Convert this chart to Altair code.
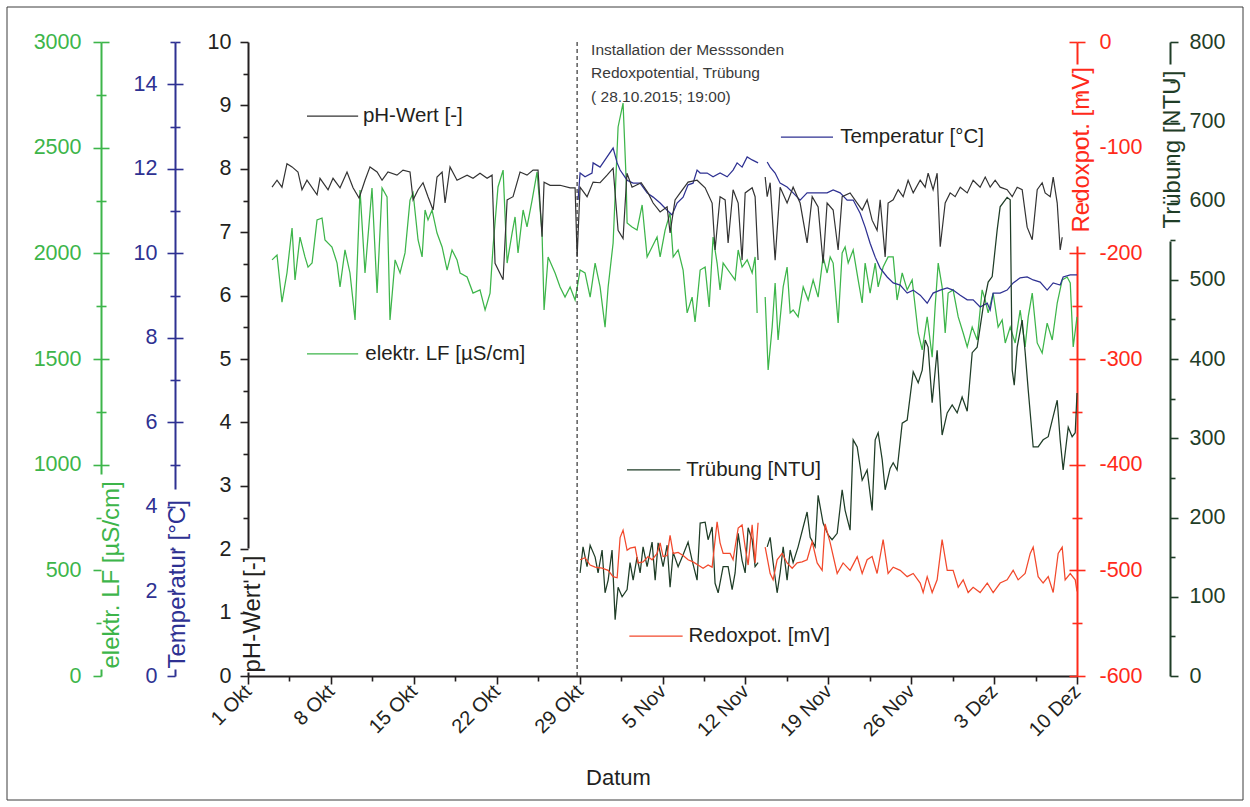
import altair as alt
import pandas as pd

T0_MS = 1443657600000          # 2015-10-01 00:00 UTC
DAY_MS = 86400000
GAP_DAY = 43.4                 # logger gap around 12 Nov
INSTALL_DAY = 27.79            # 28.10.2015 19:00

# ---------------- data: (day since 1 Okt 2015, value) ----------------
ph_points = [
    (2.03, 7.71), (2.45, 7.82), (2.87, 7.71), (3.29, 8.08), (3.72, 8.03), (4.22, 7.95), (4.56, 7.67), (4.98, 7.82),
    (5.83, 7.59), (6.08, 7.85), (6.76, 7.67), (7.18, 7.85), (7.77, 7.70), (8.36, 7.95), (8.87, 7.70), (9.38, 7.54),
    (9.88, 7.82), (10.30, 8.03), (10.90, 7.95), (11.32, 7.82), (11.82, 7.95), (12.58, 7.90), (13.09, 7.98), (13.68, 7.95),
    (13.94, 7.51), (14.36, 7.67), (14.78, 7.78), (15.20, 7.56), (15.63, 7.35), (15.96, 7.87), (16.39, 7.95), (16.64, 7.46),
    (17.06, 8.03), (17.65, 7.82), (18.50, 7.90), (19.00, 7.85), (19.59, 7.93), (20.19, 7.85), (20.61, 7.90), (20.86, 6.51),
    (21.54, 6.25), (21.88, 7.51), (22.38, 7.56), (22.97, 7.95), (23.56, 7.90), (24.07, 7.98), (24.49, 7.98), (24.83, 6.93),
    (25.00, 7.79), (25.51, 7.74), (26.35, 7.74), (27.20, 7.70), (27.62, 7.70), (27.79, 6.61), (28.04, 7.71), (28.63, 7.56),
    (29.14, 7.79), (29.73, 7.78), (30.32, 7.90), (30.83, 8.01), (31.25, 7.03), (31.67, 6.90), (32.00, 7.93), (32.43, 7.71),
    (33.20, 7.78), (33.78, 7.62), (34.21, 7.46), (34.80, 7.32), (35.39, 7.40), (35.64, 6.99), (36.06, 7.51), (36.49, 7.62),
    (37.16, 7.79), (37.92, 7.82), (38.60, 7.70), (39.19, 7.46), (39.44, 6.72), (39.86, 7.56), (40.29, 7.51), (40.54, 6.83),
    (40.96, 7.67), (41.39, 7.46), (41.72, 6.56), (41.98, 7.62), (42.57, 7.70), (42.82, 7.56), (43.07, 6.56),
    (43.67, 7.87), (43.84, 7.56), (44.09, 7.78), (44.51, 6.56), (44.93, 7.71), (45.52, 7.46), (46.03, 7.71), (46.62, 7.46),
    (47.21, 6.83), (47.64, 7.56), (48.14, 7.40), (48.56, 6.51), (48.90, 7.46), (49.41, 7.35), (49.83, 6.72), (50.17, 7.56),
    (50.84, 7.62), (51.44, 7.46), (51.86, 7.35), (52.28, 7.51), (52.70, 7.19), (53.12, 7.03), (53.38, 7.51), (53.80, 6.61),
    (54.05, 7.46), (54.48, 7.51), (54.90, 7.67), (55.32, 7.56), (55.74, 7.82), (56.17, 7.62), (56.76, 7.82), (57.18, 7.71),
    (57.43, 7.93), (57.85, 7.67), (58.19, 7.93), (58.45, 6.77), (58.87, 7.46), (59.29, 7.62), (59.71, 7.56), (60.14, 7.71),
    (60.73, 7.62), (61.23, 7.82), (61.82, 7.71), (62.25, 7.87), (62.67, 7.71), (63.09, 7.82), (63.51, 7.71), (64.10, 7.67),
    (64.53, 7.56), (64.95, 7.71), (65.37, 7.67), (65.79, 7.08), (66.22, 6.88), (66.64, 7.67), (67.06, 7.78), (67.31, 7.62),
    (67.74, 7.56), (67.99, 7.87), (68.33, 7.46), (68.58, 6.72), (68.75, 6.92),
]

lf_points = [
    (2.03, 1969), (2.45, 1992), (2.87, 1769), (3.29, 1907), (3.72, 2120), (3.97, 1874), (4.39, 2077), (4.81, 1983),
    (5.07, 1935), (5.41, 1954), (5.83, 2158), (6.25, 2167), (6.50, 2063), (7.09, 2030), (7.52, 1954), (7.77, 1841),
    (8.19, 2016), (8.61, 1907), (9.04, 1685), (9.46, 2300), (9.88, 1907), (10.47, 2309), (10.90, 1812), (11.32, 2309),
    (11.74, 2267), (11.99, 1685), (12.42, 1969), (12.84, 1907), (13.26, 2002), (13.68, 2252), (13.94, 2286), (14.36, 2063),
    (14.70, 1983), (14.95, 2205), (15.20, 2158), (15.54, 2205), (15.96, 2096), (16.39, 2030), (16.81, 1921), (17.23, 2016),
    (17.65, 1969), (17.91, 1907), (18.50, 1888), (19.00, 1812), (19.59, 1827), (20.02, 1732), (20.44, 1812), (20.69, 2030),
    (21.11, 2314), (21.54, 2394), (21.88, 1954), (22.30, 2096), (22.55, 2172), (22.80, 2002), (23.23, 2205), (23.56, 2125),
    (23.99, 2252), (24.41, 2385), (24.83, 2096), (25.00, 1732), (25.34, 1983), (25.93, 1907), (26.35, 1841), (26.77, 1793),
    (27.20, 1841), (27.62, 1779), (28.04, 1921), (28.46, 1907), (28.89, 1793), (29.31, 1954), (29.73, 1841), (30.15, 1651),
    (30.41, 1841), (30.83, 2049), (31.25, 2598), (31.67, 2711), (31.93, 2347), (32.01, 2144), (32.43, 2125), (32.85, 2110),
    (33.28, 2229), (33.70, 1983), (34.12, 2030), (34.54, 2077), (34.80, 1983), (35.22, 2110), (35.64, 2191), (35.90, 1983),
    (36.32, 2016), (36.74, 1921), (37.08, 1718), (37.50, 1793), (37.75, 1675), (38.18, 1921), (38.60, 1935), (38.94, 1746),
    (39.27, 2077), (39.61, 1954), (39.86, 1827), (40.12, 1954), (40.71, 1907), (41.13, 1874), (41.39, 2016), (41.72, 1935),
    (42.15, 1969), (42.57, 1907), (42.82, 1983), (42.99, 1718),
    (43.67, 1793), (43.92, 1448), (44.26, 1651), (44.51, 1860), (44.76, 1590), (45.19, 1841), (45.52, 1935), (45.78, 1718),
    (46.03, 1732), (46.45, 1699), (46.88, 1841), (47.30, 1779), (47.72, 1874), (48.14, 1793), (48.56, 1983), (48.90, 1907),
    (49.16, 1983), (49.41, 1954), (49.83, 1670), (50.17, 2002), (50.42, 2030), (50.68, 1954), (51.10, 2016), (51.52, 1874),
    (51.86, 1765), (52.11, 1954), (52.53, 1812), (52.96, 1954), (53.21, 1841), (53.63, 1935), (54.05, 1983), (54.48, 1983),
    (54.81, 1779), (55.24, 1907), (55.66, 1827), (56.08, 1874), (56.59, 1623), (56.93, 1543), (57.35, 1699), (57.77, 1509),
    (58.02, 1746), (58.28, 1954), (58.61, 1841), (58.87, 1623), (59.12, 1812), (59.54, 1827), (59.97, 1699), (60.39, 1623),
    (60.73, 1557), (61.15, 1651), (61.57, 1590), (61.99, 1827), (62.25, 1779), (62.50, 1718), (62.92, 1812), (63.34, 1651),
    (63.68, 1685), (63.94, 1576), (64.36, 1651), (64.78, 1576), (65.20, 1732), (65.62, 1557), (65.88, 1699), (66.22, 1812),
    (66.64, 1576), (67.06, 1528), (67.48, 1670), (67.91, 1590), (68.33, 1765), (68.75, 1874), (69.17, 1888), (69.43, 1860),
    (69.68, 1557), (70.00, 1699),
]

temp_points = [
    (27.87, 11.26), (28.04, 11.90), (28.46, 11.81), (29.05, 11.90), (29.14, 12.14), (29.73, 12.04), (30.32, 12.28),
    (30.83, 12.49), (31.17, 12.14), (31.42, 11.97), (32.01, 11.73), (32.52, 11.66), (33.11, 11.66), (33.70, 11.43),
    (34.21, 11.33), (34.80, 11.19), (35.39, 11.02), (35.81, 10.91), (36.23, 11.19), (36.74, 11.33), (37.16, 11.62),
    (37.58, 11.66), (37.92, 11.97), (38.18, 11.90), (38.77, 11.90), (39.27, 11.81), (39.86, 11.90), (40.46, 11.81),
    (40.96, 11.97), (41.30, 12.14), (41.72, 12.04), (42.15, 12.28), (42.57, 12.21), (43.07, 12.14),
    (43.84, 12.16), (44.09, 12.04), (44.51, 11.90), (44.93, 11.66), (45.52, 11.57), (46.03, 11.43), (46.62, 11.26),
    (47.21, 11.43), (47.72, 11.43), (48.31, 11.43), (48.90, 11.43), (49.41, 11.50), (50.00, 11.43), (50.59, 11.26),
    (51.10, 11.26), (51.69, 10.95), (52.11, 10.62), (52.53, 10.24), (52.96, 9.91), (53.38, 9.65), (53.97, 9.44),
    (54.48, 9.30), (55.07, 9.25), (55.66, 9.06), (56.17, 9.13), (56.76, 9.01), (57.35, 8.82), (57.85, 9.06),
    (58.45, 9.13), (59.04, 9.18), (59.54, 9.13), (60.14, 9.01), (60.73, 8.90), (61.23, 8.90), (61.82, 8.73),
    (62.42, 8.82), (62.67, 8.66), (62.92, 9.06), (63.51, 9.06), (64.10, 9.13), (64.61, 9.30), (65.20, 9.42),
    (65.79, 9.44), (66.30, 9.37), (66.89, 9.32), (67.48, 9.13), (67.99, 9.30), (68.58, 9.25), (68.83, 9.44),
    (69.43, 9.49), (70.00, 9.49),
]

redox_points = [
    (28.04, -490), (28.46, -488), (28.89, -495), (29.31, -497), (29.90, -498), (30.41, -500), (30.83, -506), (31.17, -507),
    (31.42, -469), (31.67, -462), (32.01, -481), (32.26, -479), (32.69, -478), (32.94, -493), (33.36, -492), (33.78, -487),
    (34.12, -490), (34.54, -484), (34.80, -474), (35.05, -487), (35.39, -486), (35.64, -467), (35.90, -484), (36.32, -483),
    (36.74, -486), (37.16, -490), (37.58, -492), (38.00, -495), (38.43, -498), (38.85, -495), (39.19, -497), (39.61, -454),
    (39.86, -474), (40.12, -484), (40.71, -484), (40.96, -490), (41.39, -460), (41.72, -457), (41.98, -478), (42.23, -495),
    (42.57, -457), (42.82, -493), (43.07, -455),
    (43.67, -478), (44.09, -503), (44.34, -509), (44.68, -490), (45.10, -484), (45.52, -493), (45.95, -498), (46.37, -493),
    (46.79, -492), (47.21, -490), (47.64, -473), (48.06, -493), (48.48, -500), (48.73, -456), (49.16, -474), (49.75, -503),
    (50.25, -493), (50.84, -500), (51.44, -487), (51.86, -503), (52.28, -490), (52.70, -487), (53.12, -503), (53.63, -471),
    (54.05, -503), (54.48, -497), (55.07, -500), (55.66, -506), (56.17, -503), (56.76, -512), (57.01, -521), (57.35, -506),
    (57.77, -521), (58.19, -509), (58.61, -471), (59.04, -500), (59.54, -500), (59.97, -516), (60.39, -509), (60.81, -521),
    (61.23, -516), (61.82, -521), (62.42, -512), (62.92, -521), (63.51, -512), (64.10, -509), (64.61, -500), (65.03, -509),
    (65.62, -503), (66.05, -484), (66.30, -478), (66.72, -506), (67.14, -512), (67.57, -506), (67.99, -521), (68.41, -484),
    (68.75, -478), (69.00, -509), (69.43, -503), (69.85, -509), (70.00, -520),
]

turb_points = [
    (28.04, 130), (28.29, 163), (28.63, 138), (28.89, 165), (29.31, 150), (29.56, 130), (29.90, 159), (30.15, 105),
    (30.41, 121), (30.74, 159), (31.00, 71), (31.25, 112), (31.59, 100), (32.01, 109), (32.26, 143), (32.52, 121),
    (32.85, 150), (33.11, 130), (33.36, 163), (33.70, 138), (34.12, 169), (34.38, 121), (34.63, 168), (35.05, 138),
    (35.39, 165), (35.64, 112), (35.90, 156), (36.32, 138), (36.74, 153), (37.16, 169), (37.50, 146), (37.92, 121),
    (38.18, 193), (38.60, 194), (38.85, 172), (39.19, 188), (39.44, 117), (39.70, 105), (40.12, 138), (40.54, 138),
    (40.88, 109), (41.13, 130), (41.39, 180), (41.72, 146), (41.98, 130), (42.23, 187), (42.57, 172), (42.82, 138),
    (43.07, 143),
    (43.84, 163), (44.09, 175), (44.34, 143), (44.68, 105), (44.93, 130), (45.19, 163), (45.52, 121), (45.78, 159),
    (46.03, 143), (46.45, 163), (46.88, 188), (47.21, 207), (47.47, 175), (47.89, 163), (48.14, 228), (48.56, 193),
    (48.99, 178), (49.32, 172), (49.75, 180), (50.17, 235), (50.42, 209), (50.84, 184), (51.10, 298), (51.44, 289),
    (51.86, 247), (52.28, 260), (52.70, 209), (52.96, 298), (53.21, 307), (53.55, 273), (53.80, 235), (54.22, 262),
    (54.48, 269), (54.81, 260), (55.24, 319), (55.66, 323), (56.17, 384), (56.59, 370), (56.93, 386), (57.18, 424),
    (57.43, 415), (57.77, 345), (58.19, 411), (58.61, 304), (59.04, 332), (59.46, 342), (59.88, 332), (60.30, 352),
    (60.73, 334), (61.15, 408), (61.57, 415), (62.08, 466), (62.50, 497), (62.84, 504), (63.26, 563), (63.51, 592),
    (64.10, 604), (64.36, 601), (64.53, 386), (64.70, 367), (64.95, 415), (65.37, 449), (65.62, 409), (65.88, 361),
    (66.30, 289), (66.72, 289), (67.14, 298), (67.57, 302), (67.91, 323), (68.33, 348), (68.58, 298), (68.83, 260),
    (69.26, 314), (69.59, 302), (69.85, 307), (70.00, 357),
]

# in-plot legend entries (sample line from day0 to day1, text at day_text, height in pH units)
legend_label = ["pH-Wert [-]", "elektr. LF [µS/cm]", "Temperatur [°C]", "Trübung [NTU]", "Redoxpot. [mV]"]
legend_day0 = [4.98, 4.98, 45.0, 32.0, 32.2]
legend_day1 = [9.3, 9.3, 49.4, 36.5, 36.7]
legend_text_day = [9.7, 9.9, 50.0, 37.0, 37.2]
legend_ph = [8.83, 5.08, 8.50, 3.25, 0.63]

note_lines = ["Installation der Messsonden", "Redoxpotential, Trübung", " ( 28.10.2015; 19:00)"]
note_day = 28.97
note_ph = [9.87, 9.51, 9.13]

# axis tick values
lf_vals = [i * 250 for i in range(13)]
t_vals = list(range(16))
ph_vals = [i * 0.5 for i in range(21)]
rx_vals = [-600 + i * 50 for i in range(13)]
tu_vals = [i * 50 for i in range(17)]
# inner half of the crossing ticks (left out where the axis title sits)
lf_inner_vals = [v for v in lf_vals if v >= 1000]
t_inner_vals = [v for v in t_vals if v >= 5]
rx_inner_vals = [v for v in rx_vals if v <= -200 or v == 0]

# ---------------- styling ----------------
FONT = "Liberation Sans"
C_LF = "#3db54a"
C_T = "#2e3192"
C_PH = "#231f20"
C_PH_LINE = "#333333"
C_RX = "#ff2a1a"
C_RX_LINE = "#f2492c"
C_TU = "#1f3d27"
LBL = 21.5
TTL = 24
PLOT_W, PLOT_H = 829, 634


def ms(day):
    return T0_MS + int(round(day * DAY_MS))


def to_df(points):
    return pd.DataFrame({
        "t": [ms(d) for d, _ in points],
        "v": [v for _, v in points],
        "seg": ["a" if d < GAP_DAY else "b" for d, _ in points],
    })


x_scale = alt.Scale(type="utc", domain=[T0_MS, ms(70)])
x_ticks = [T0_MS + i * 302400000 for i in range(21)]
x_axis = alt.Axis(
    values=x_ticks,
    labelExpr=("(datum.value - %d) %% 604800000 === 0 ? utcdate(datum.value) + ' ' + "
               "['Okt','Nov','Dez'][utcmonth(datum.value) - 9] : ''") % T0_MS,
    tickSize={"condition": {"test": "(datum.value - %d) %% 604800000 === 0" % T0_MS, "value": 8}, "value": 5},
    tickColor=C_PH, tickWidth=1.6, domainColor=C_PH, domainWidth=2,
    labelAngle=-45, labelAlign="right", labelBaseline="middle", labelPadding=4,
    labelFont=FONT, labelFontSize=20, labelColor=C_PH, labelFlush=False, labelOverlap=False,
    title="Datum", titleFont=FONT, titleFontSize=22, titleFontWeight="normal", titleColor=C_PH,
    titleX=370, titleY=101, titleAlign="center", titleBaseline="middle", titleAngle=0,
    grid=False,
)
X = alt.X("t:T", scale=x_scale, axis=x_axis)


def y_axis(orient, offset, color, values, major, label_test, title, title_x, title_y, dash, pad):
    return alt.Axis(
        orient=orient, offset=offset, values=values,
        labelExpr="%s ? '' + datum.value : ''" % label_test,
        tickSize={"condition": {"test": major, "value": 8}, "value": 5},
        tickColor=color, tickWidth=1.6,
        domainColor=color, domainWidth=2, domainDash=dash,
        labelColor=color, labelFont=FONT, labelFontSize=LBL, labelPadding=pad, labelOverlap=False,
        title=title, titleColor=color, titleFont=FONT, titleFontSize=TTL, titleFontWeight="normal",
        titleAngle=270, titleAlign="left", titleBaseline="middle", titleX=title_x, titleY=title_y,
        grid=False,
    )


def inner_ticks(orient, offset, color, values, major):
    """Second tick row on the inner side of an axis, so the ticks cross the axis line."""
    return alt.Axis(
        orient=orient, offset=offset, values=values,
        tickSize={"condition": {"test": major, "value": 8}, "value": 5},
        tickColor=color, tickWidth=1.6,
        domain=False, labels=False, title="", grid=False,
    )


lf_axis = y_axis("left", 147, C_LF, lf_vals, "datum.value % 500 === 0",
                 "datum.value % 500 === 0", "elektr. LF [µS/cm]", 10, 626, [7, 195, 800], 12)
t_axis = y_axis("left", 73, C_T, t_vals, "datum.value % 2 === 0",
                "datum.value % 2 === 0 && datum.value < 15", "Temperatur [°C]", 2, 626, [7, 180, 800], 10)
ph_axis = y_axis("left", 0, C_PH, ph_vals, "datum.value % 1 === 0",
                 "datum.value % 1 === 0", "pH-Wert [-]", 4, 630, [4, 124, 800], 9)
rx_axis = y_axis("right", 0, C_RX, rx_vals, "datum.value % 100 === 0",
                 "datum.value % 100 === 0", "Redoxpot. [mV]", 4, 190, [430, 182, 800], 14)
tu_axis = y_axis("right", 93, C_TU, tu_vals, "datum.value % 100 === 0",
                 "datum.value % 100 === 0", "Trübung [NTU]", 2, 186, [435, 177, 800], 11)

lf_inner = inner_ticks("right", -(PLOT_W + 147), C_LF, lf_inner_vals, "datum.value % 500 === 0")
t_inner = inner_ticks("right", -(PLOT_W + 73), C_T, t_inner_vals, "datum.value % 2 === 0")
rx_inner = inner_ticks("left", -PLOT_W, C_RX, rx_inner_vals, "datum.value % 100 === 0")

ph_scale = alt.Scale(domain=[0, 10], nice=False, zero=False)
Y_PH = alt.Y("v:Q", scale=ph_scale, axis=ph_axis)


def series(points, color, domain, axis, opacity=1.0):
    return alt.Chart(to_df(points)).mark_line(color=color, strokeWidth=1.25, opacity=opacity).encode(
        x=X,
        y=alt.Y("v:Q", scale=alt.Scale(domain=domain, nice=False, zero=False), axis=axis),
        detail="seg:N",
    )


lf_layer = series(lf_points, C_LF, [0, 3000], lf_axis)
t_layer = series(temp_points, C_T, [0, 15], t_axis)
rx_layer = series(redox_points, C_RX_LINE, [-600, 0], rx_axis)
tu_layer = series(turb_points, C_TU, [0, 800], tu_axis)

lf_tick_layer = series(lf_points, C_LF, [0, 3000], lf_inner, opacity=0)
t_tick_layer = series(temp_points, C_T, [0, 15], t_inner, opacity=0)
rx_tick_layer = series(redox_points, C_RX_LINE, [-600, 0], rx_inner, opacity=0)

ph_line = alt.Chart(to_df(ph_points)).mark_line(color=C_PH_LINE, strokeWidth=1.2).encode(
    x=X, y=Y_PH, detail="seg:N",
)

install_rule = alt.Chart(pd.DataFrame({"t": [ms(INSTALL_DAY)]})).mark_rule(
    color="#333333", strokeDash=[4, 3], strokeWidth=1.2
).encode(x=X)

leg_line_df = pd.DataFrame({
    "t": [ms(d) for d in legend_day0],
    "t2": [ms(d) for d in legend_day1],
    "v": legend_ph,
    "c": [C_PH_LINE, C_LF, C_T, C_TU, C_RX_LINE],
})
leg_rules = alt.Chart(leg_line_df).mark_rule(strokeWidth=1.3).encode(
    x=X, x2="t2:T", y=Y_PH, color=alt.Color("c:N", scale=None),
)
leg_text_df = pd.DataFrame({
    "t": [ms(d) for d in legend_text_day],
    "v": legend_ph,
    "label": legend_label,
})
leg_text = alt.Chart(leg_text_df).mark_text(
    align="left", baseline="middle", font=FONT, fontSize=20.5, color=C_PH
).encode(x=X, y=Y_PH, text="label:N")

note_df = pd.DataFrame({"t": [ms(note_day)] * 3, "v": note_ph, "label": note_lines})
note_text = alt.Chart(note_df).mark_text(
    align="left", baseline="middle", font=FONT, fontSize=15.5, color="#3a3a3a"
).encode(x=X, y=Y_PH, text="label:N")

ph_layer = alt.layer(ph_line, install_rule, leg_rules, leg_text, note_text)

# thin figure frame around the whole graphic
frame = alt.Chart(pd.DataFrame({"f": [0]})).mark_rect(
    fillOpacity=0, stroke="#3c3c3c", strokeWidth=1
).encode(
    x=alt.value(-241), x2=alt.value(PLOT_W + 166),
    y=alt.value(-35), y2=alt.value(PLOT_H + 124),
)

chart = alt.layer(
    frame, lf_layer, lf_tick_layer, t_layer, t_tick_layer, ph_layer, tu_layer, rx_layer, rx_tick_layer
).resolve_scale(
    y="independent"
).properties(
    width=PLOT_W,
    height=PLOT_H,
    padding={"left": 248, "top": 42, "right": 173, "bottom": 131},
    autosize=alt.AutoSizeParams(type="none"),
    background="white",
).configure_view(stroke=None)

chart.save("out.html", embed_options={"renderer": "svg", "actions": False})
